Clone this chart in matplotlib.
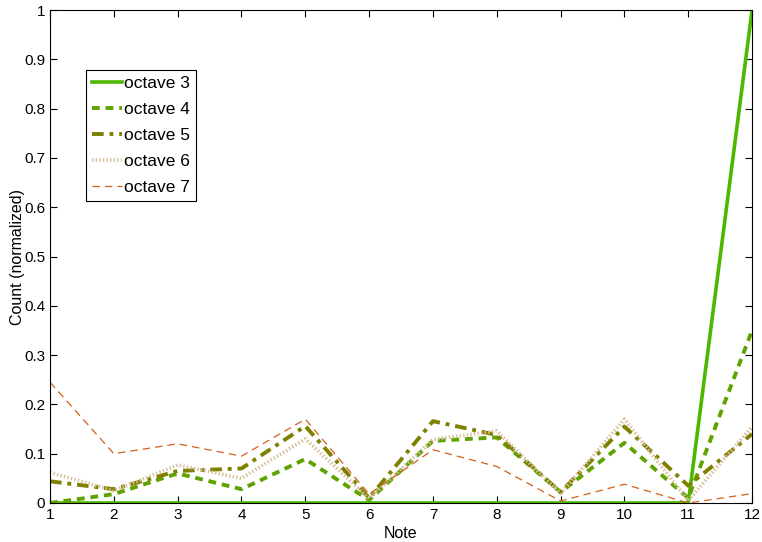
import matplotlib
matplotlib.use("Agg")
import matplotlib.pyplot as plt

plt.rcParams['font.family'] = ['Liberation Sans', 'DejaVu Sans']

notes = [1, 2, 3, 4, 5, 6, 7, 8, 9, 10, 11, 12]
octave3 = [0, 0, 0, 0, 0, 0, 0, 0, 0, 0, 0, 1.0]
octave4 = [0.0, 0.018, 0.060, 0.028, 0.089, 0.006, 0.126, 0.133, 0.022, 0.122, 0.010, 0.35]
octave5 = [0.044, 0.028, 0.065, 0.070, 0.156, 0.010, 0.166, 0.138, 0.022, 0.155, 0.035, 0.140]
octave6 = [0.062, 0.025, 0.077, 0.050, 0.130, 0.009, 0.129, 0.146, 0.019, 0.170, 0.005, 0.155]
octave7 = [0.245, 0.100, 0.120, 0.095, 0.170, 0.018, 0.108, 0.074, 0.004, 0.038, 0.0, 0.019]

fig = plt.figure(figsize=(7.62, 5.42), dpi=100)
ax = fig.add_axes([0.0656, 0.072, 0.9214, 0.9095])

ax.plot(notes, octave3, '-', color='#4cb800', lw=2.6, label='octave 3')
ax.plot(notes, octave4, '--', color='#5fa300', lw=2.8, dashes=(2, 1.5), label='octave 4')
ax.plot(notes, octave5, '-.', color='#7f8000', lw=2.8, dashes=(3, 1.5, 1, 1.5), label='octave 5')
ax.plot(notes, octave6, ':', color='#d8bf9a', lw=2.6, dashes=(0.4, 0.6), label='octave 6')
ax.plot(notes, octave7, '--', color='#d2601a', lw=0.9, dashes=(6, 4), label='octave 7')

ax.set_xlim(1, 12)
ax.set_ylim(0, 1)
ax.set_xticks(notes)
ax.set_yticks([i / 10 for i in range(11)])
ax.set_yticklabels(['0', '0.1', '0.2', '0.3', '0.4', '0.5', '0.6', '0.7', '0.8', '0.9', '1'])
ax.tick_params(direction='in', top=True, right=True, labelsize=11, length=5)
ax.set_xlabel('Note', fontsize=11.5, labelpad=3)
ax.set_ylabel('Count (normalized)', fontsize=11.5)
ax.yaxis.set_label_coords(-0.036, 0.5)

leg = ax.legend(loc='upper left', bbox_to_anchor=(0.051, 0.878), borderaxespad=0,
                fontsize=12.5, fancybox=False, edgecolor='black', framealpha=1,
                handlelength=1.75, handletextpad=0.1, labelspacing=0.62,
                borderpad=0.35)
leg.get_frame().set_linewidth(0.8)

fig.savefig('out.png', dpi=100)
